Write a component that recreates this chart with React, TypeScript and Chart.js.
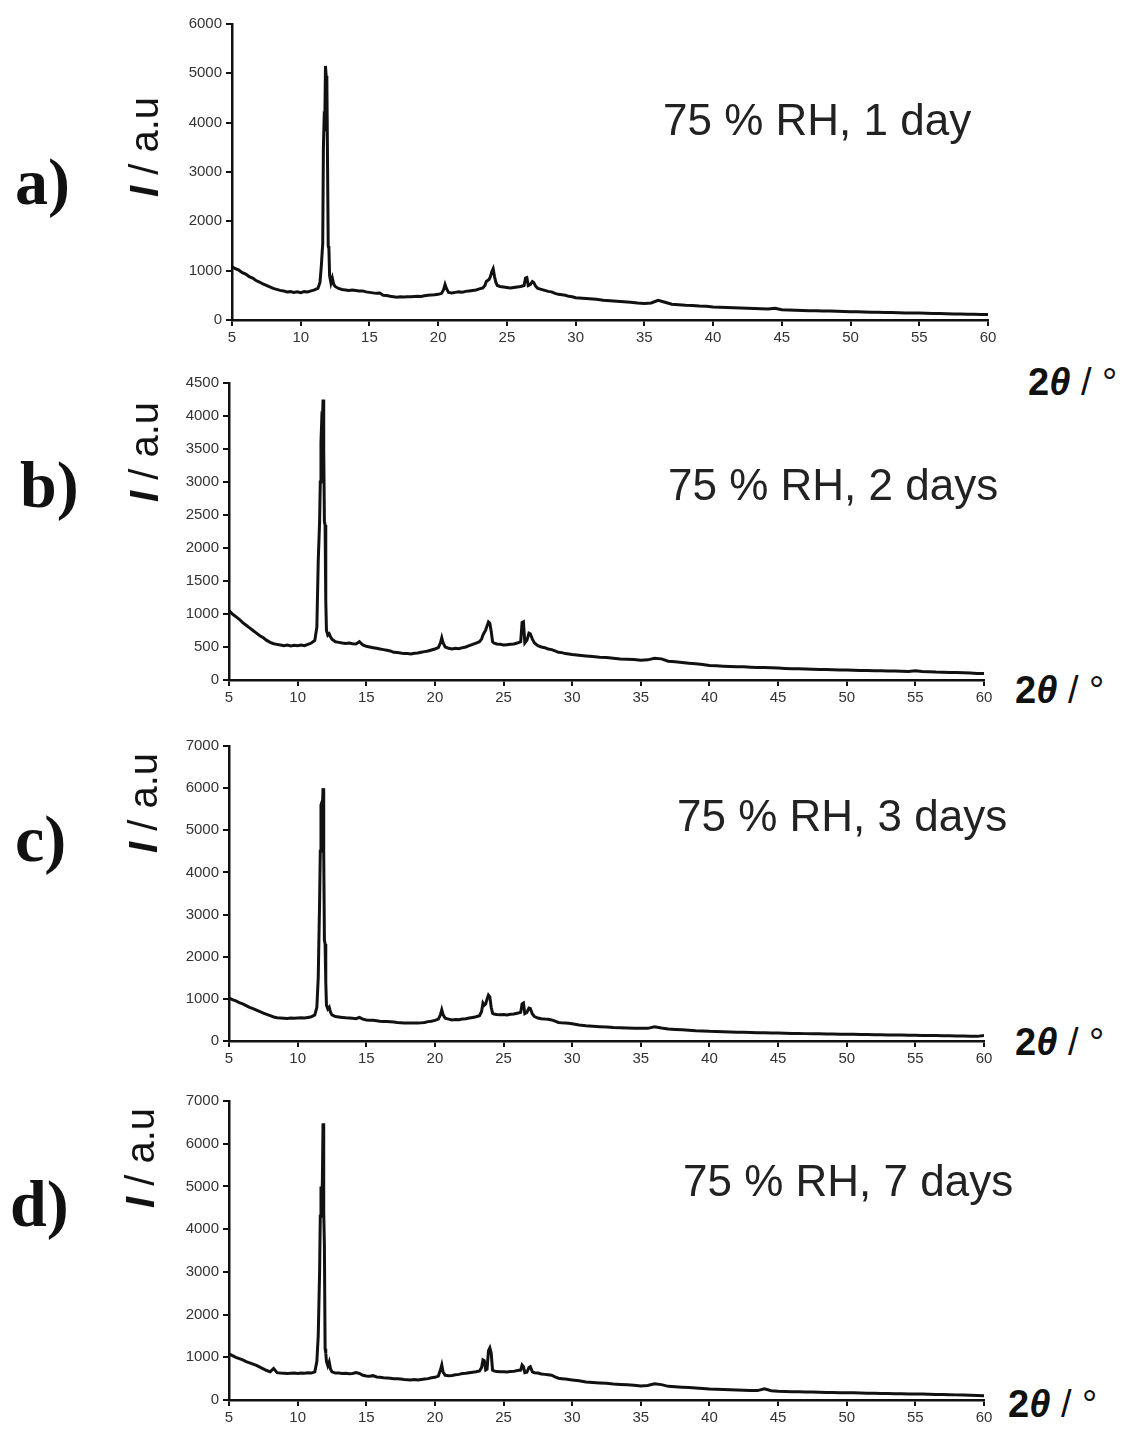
import React, { useEffect, useRef } from "react";
import { Chart, registerables } from "chart.js";

Chart.register(...registerables);

// 2θ (degrees) sampling positions
const twoTheta = [
  5, 5.25, 5.5, 5.75, 6, 6.25, 6.5, 6.75, 7, 7.25, 7.5, 7.75, 8, 8.25, 8.5, 8.75, 9, 9.25, 9.5, 9.75, 10, 10.25, 10.5, 10.75, 11,
  11.25, 11.4, 11.5, 11.6, 11.65, 11.7, 11.75, 11.8, 11.85, 11.9, 11.95, 12, 12.05, 12.1, 12.2, 12.3, 12.4, 12.5, 12.75,
  13, 13.25, 13.5, 13.75, 14, 14.25, 14.5, 14.75, 15, 15.25, 15.5, 15.75, 16, 16.25, 16.5, 16.75, 17, 17.25, 17.5, 17.75, 18, 18.25, 18.5, 18.75, 19, 19.25, 19.5, 19.75, 20, 20.25,
  20.4, 20.5, 20.6, 20.75, 21, 21.25, 21.5, 21.75, 22, 22.25, 22.5, 22.75, 23, 23.25,
  23.4, 23.5, 23.6, 23.7, 23.8, 23.9, 24, 24.1, 24.2, 24.3, 24.5, 24.75, 25, 25.25, 25.5, 25.75, 26, 26.25,
  26.35, 26.45, 26.55, 26.7, 26.85, 26.95, 27.1, 27.25, 27.5, 27.75, 28, 28.25, 28.5, 28.75, 29, 29.25, 29.5, 29.75, 30,
  30.5, 31, 31.5, 32, 32.5, 33, 33.5, 34, 34.5, 35, 35.5, 36, 36.5, 37, 37.5, 38, 38.5, 39, 39.5, 40,
  40.5, 41, 41.5, 42, 42.5, 43, 43.5, 44, 44.5, 45, 45.5, 46, 46.5, 47, 47.5, 48, 48.5, 49, 49.5, 50,
  50.5, 51, 51.5, 52, 52.5, 53, 53.5, 54, 54.5, 55, 55.5, 56, 56.5, 57, 57.5, 58, 58.5, 59, 59.5, 60,
];

// a) 75 % RH, 1 day
const day1 = [
  1080, 1040, 1010, 960, 930, 880, 850, 800, 770, 730, 700, 670, 640, 620, 600, 590, 570, 575, 560, 570, 555, 575, 570, 590, 610,
  640, 760, 1100, 1550, 3500, 4050, 4000, 5150, 4950, 4900, 3200, 1500, 1450, 900, 750, 850, 720, 680, 640,
  620, 610, 600, 610, 600, 590, 590, 570, 560, 550, 540, 545, 500, 495, 480, 470, 460, 470, 465, 470, 470, 475, 480, 475, 490, 500, 505, 510, 520, 540,
  620, 720, 640, 560, 550, 560, 570, 565, 580, 590, 600, 610, 630, 650,
  700, 780, 800, 820, 880, 980, 1040, 880, 760, 700, 680, 670, 660, 650, 660, 670, 680, 700,
  850, 860, 700, 720, 780, 760, 680, 640, 620, 600, 580, 570, 540, 520, 510, 500, 480, 470, 450,
  440, 430, 420, 400, 390, 380, 370, 360, 345, 335, 345, 400, 360, 320, 310, 300, 295, 285, 280, 265,
  260, 255, 250, 245, 240, 235, 230, 225, 240, 210, 205, 200, 195, 190, 185, 180, 180, 175, 170, 165,
  165, 160, 158, 155, 150, 150, 145, 140, 140, 140, 135, 130, 130, 125, 120, 120, 115, 115, 110, 110,
];

// b) 75 % RH, 2 days
const day2 = [
  1050, 1000, 960, 920, 870, 830, 790, 750, 710, 670, 640, 600, 570, 550, 540, 530, 520, 530, 515, 525, 520, 530, 520, 540, 560,
  600, 800, 1800, 2400, 3000, 3600, 3900, 3850, 4250, 3500, 2400, 2350, 1200, 750, 680, 700, 650, 620, 580,
  570, 560, 555, 560, 550, 545, 580, 530, 510, 500, 490, 480, 470, 460, 450, 440, 420, 415, 410, 400, 400, 395, 405, 410, 420, 430, 440, 455, 470, 490,
  560, 640, 560, 500, 480, 470, 480, 475, 490, 500, 520, 540, 560, 580,
  620, 680, 720, 760, 820, 880, 860, 740, 580, 560, 545, 540, 530, 535, 540, 545, 560, 580,
  870, 880, 560, 600, 710, 700, 620, 560, 520, 500, 490, 470, 460, 440, 420, 415, 400, 395, 385,
  375, 365, 355, 345, 340, 330, 320, 315, 310, 300, 305, 330, 320, 285, 275, 265, 255, 245, 235, 220,
  215, 210, 205, 200, 200, 195, 190, 190, 185, 180, 175, 172, 170, 165, 162, 160, 158, 155, 152, 150,
  148, 145, 143, 140, 140, 138, 135, 133, 130, 140, 130, 125, 120, 118, 115, 112, 110, 105, 100, 100,
];

// c) 75 % RH, 3 days
const day3 = [
  1020, 980, 950, 910, 880, 840, 800, 770, 735, 700, 660, 630, 600, 570, 550, 545, 540, 535, 545, 540, 545, 550, 545, 560, 575,
  620, 800, 1500, 3300, 4500, 5600, 5650, 5500, 6000, 4500, 2400, 2300, 1400, 850, 760, 800, 680, 620, 580,
  570, 560, 550, 545, 540, 530, 560, 520, 500, 495, 490, 480, 470, 465, 460, 455, 450, 440, 435, 430, 425, 425, 430, 425, 430, 440, 460, 470, 490, 520,
  620, 740, 620, 540, 520, 500, 510, 505, 520, 530, 545, 560, 575, 600,
  700, 900, 850, 880, 1000, 1090, 1050, 800, 660, 640, 630, 625, 630, 620, 635, 640, 660, 680,
  880, 900, 650, 680, 780, 770, 640, 580, 545, 530, 520, 515, 500, 470, 440, 430, 425, 420, 410,
  380, 360, 350, 340, 330, 320, 315, 310, 305, 300, 300, 340, 310, 285, 275, 265, 255, 245, 240, 230,
  225, 220, 215, 210, 205, 200, 198, 195, 192, 190, 185, 180, 178, 175, 172, 170, 168, 165, 162, 160,
  158, 155, 152, 150, 148, 145, 142, 140, 138, 135, 132, 130, 128, 125, 122, 120, 118, 115, 110, 130,
];

// d) 75 % RH, 7 days
const day7 = [
  1080, 1040, 1000, 970, 940, 900, 870, 840, 810, 770, 730, 690, 660, 740, 640, 630, 625, 620, 625, 630, 620, 630, 625, 640, 630,
  660, 900, 1500, 3000, 4300, 5000, 4600, 5100, 6480, 4400, 3600, 1200, 1100, 900, 800, 890, 720, 660, 630,
  630, 620, 625, 615, 620, 640, 620, 580, 560, 555, 570, 540, 530, 520, 515, 510, 500, 495, 490, 480, 475, 470, 480, 470, 480, 490, 500, 520, 530, 560,
  700, 820, 650, 580, 570, 575, 590, 600, 620, 625, 640, 650, 660, 680,
  760, 940, 920, 700, 720, 1150, 1220, 1100, 700, 680, 665, 660, 660, 655, 665, 670, 690, 700,
  820, 780, 640, 650, 760, 780, 660, 640, 630, 610, 600, 590, 580, 540, 510, 500, 490, 480, 470,
  450, 420, 410, 400, 390, 375, 365, 355, 345, 330, 340, 380, 360, 320, 310, 300, 290, 280, 270, 255,
  250, 245, 240, 235, 230, 225, 220, 260, 215, 205, 200, 195, 192, 188, 185, 180, 178, 175, 172, 170,
  168, 165, 160, 158, 155, 150, 148, 145, 142, 140, 138, 135, 130, 128, 125, 120, 115, 110, 105, 100,
];

const panelLetters = ["a)", "b)", "c)", "d)"];
const panelTitles = ["75 % RH, 1 day", "75 % RH, 2 days", "75 % RH, 3 days", "75 % RH, 7 days"];
const yMaxes = [6000, 4500, 7000, 7000];
const ySteps = [1000, 500, 1000, 1000];
const series = [day1, day2, day3, day7];

type Layout = {
  area: { l: number; r: number; t: number; b: number };
  letter: { x: number; y: number };
  ylab: { x: number; y: number };
  title: { x: number; y: number };
  xlab: { x: number; y: number };
};

const layouts: Layout[] = [
  { area: { l: 232, r: 988, t: 24, b: 320 }, letter: { x: 15, y: 149 }, ylab: { x: 144, y: 147 }, title: { x: 663, y: 98 }, xlab: { x: 1028, y: 363 } },
  { area: { l: 229, r: 984, t: 383, b: 680 }, letter: { x: 20, y: 452 }, ylab: { x: 144, y: 452 }, title: { x: 668, y: 463 }, xlab: { x: 1015, y: 671 } },
  { area: { l: 229, r: 984, t: 746, b: 1041 }, letter: { x: 15, y: 806 }, ylab: { x: 143, y: 803 }, title: { x: 677, y: 794 }, xlab: { x: 1015, y: 1023 } },
  { area: { l: 229, r: 984, t: 1101, b: 1400 }, letter: { x: 10, y: 1171 }, ylab: { x: 140, y: 1158 }, title: { x: 683, y: 1159 }, xlab: { x: 1008, y: 1385 } },
];

const YW = 72;
const XH = 32;
const PT = 14;
const PR = 14;
const INK = "#111";
const SANS = "'Liberation Sans', Arial, sans-serif";

function Panel({ idx }: { idx: number }) {
  const ref = useRef<HTMLCanvasElement | null>(null);
  const lay = layouts[idx];
  const w = lay.area.r - lay.area.l + YW + PR;
  const h = lay.area.b - lay.area.t + PT + XH;

  useEffect(() => {
    if (!ref.current) return;
    const vals = series[idx];
    const chart = new Chart(ref.current, {
      type: "line",
      data: {
        datasets: [
          {
            data: twoTheta.map((x, i) => ({ x, y: vals[i] })),
            borderColor: INK,
            borderWidth: 3,
            pointRadius: 0,
            tension: 0,
            fill: false,
          },
        ],
      },
      options: {
        animation: false,
        responsive: false,
        layout: { padding: { top: PT, right: PR, left: 0, bottom: 0 } },
        plugins: { legend: { display: false }, tooltip: { enabled: false } },
        scales: {
          x: {
            type: "linear",
            min: 5,
            max: 60,
            ticks: {
              stepSize: 5,
              autoSkip: false,
              maxRotation: 0,
              padding: 3,
              color: "#333",
              font: { family: SANS, size: 15 },
              callback: (v: any) => String(v),
            },
            grid: { drawOnChartArea: false, drawTicks: true, tickLength: 6, color: INK, lineWidth: 2 },
            border: { display: true, color: INK, width: 2.5 },
            afterFit: (s: any) => {
              s.height = XH;
            },
          },
          y: {
            type: "linear",
            min: 0,
            max: yMaxes[idx],
            ticks: {
              stepSize: ySteps[idx],
              autoSkip: false,
              padding: 4,
              color: "#333",
              font: { family: SANS, size: 15 },
              callback: (v: any) => String(v),
            },
            grid: { drawOnChartArea: false, drawTicks: true, tickLength: 6, color: INK, lineWidth: 2 },
            border: { display: true, color: INK, width: 2.5 },
            afterFit: (s: any) => {
              s.width = YW;
            },
          },
        },
      },
    } as any);
    return () => chart.destroy();
  }, [idx]);

  return (
    <>
      <canvas
        ref={ref}
        width={w}
        height={h}
        style={{ position: "absolute", left: lay.area.l - YW, top: lay.area.t - PT, width: w, height: h }}
      />
      <div
        style={{
          position: "absolute",
          left: lay.letter.x,
          top: lay.letter.y,
          fontFamily: "'Liberation Serif', 'Times New Roman', serif",
          fontWeight: "bold",
          fontSize: 66,
          lineHeight: 1,
          color: INK,
          whiteSpace: "nowrap",
        }}
      >
        {panelLetters[idx]}
      </div>
      <div
        style={{
          position: "absolute",
          left: lay.ylab.x,
          top: lay.ylab.y,
          transform: "translate(-50%, -50%) rotate(-90deg)",
          fontFamily: SANS,
          fontSize: 40,
          lineHeight: 1,
          color: INK,
          whiteSpace: "nowrap",
        }}
      >
        <span style={{ fontWeight: "bold", fontStyle: "italic" }}>I</span> / a.u
      </div>
      <div
        style={{
          position: "absolute",
          left: lay.title.x,
          top: lay.title.y,
          fontFamily: SANS,
          fontSize: 44,
          lineHeight: 1,
          color: "#222",
          whiteSpace: "nowrap",
        }}
      >
        {panelTitles[idx]}
      </div>
      <div
        style={{
          position: "absolute",
          left: lay.xlab.x,
          top: lay.xlab.y,
          fontFamily: SANS,
          fontSize: 38,
          lineHeight: 1,
          color: INK,
          whiteSpace: "nowrap",
        }}
      >
        <span style={{ fontWeight: "bold" }}>2</span>
        <span style={{ fontWeight: "bold", fontStyle: "italic" }}>θ</span> / °
      </div>
    </>
  );
}

export default function App() {
  return (
    <div style={{ position: "absolute", left: 0, top: 0, width: 1128, height: 1434, background: "#fff", overflow: "hidden" }}>
      {[0, 1, 2, 3].map((i) => (
        <Panel key={i} idx={i} />
      ))}
    </div>
  );
}
